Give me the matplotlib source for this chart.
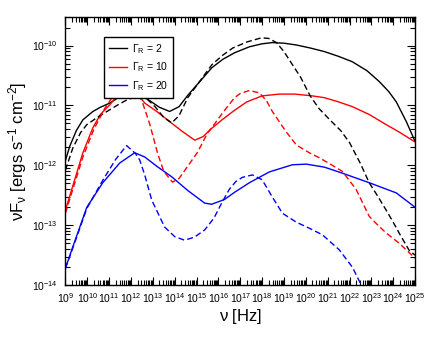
import numpy as np
import matplotlib
matplotlib.use("Agg")
import matplotlib.pyplot as plt
from matplotlib.ticker import FixedLocator, NullFormatter

plt.rcParams["font.family"] = ["Liberation Sans", "DejaVu Sans"]
plt.rcParams["mathtext.fontset"] = "custom"
plt.rcParams["mathtext.rm"] = "Liberation Sans"
plt.rcParams["mathtext.it"] = "Liberation Sans:italic"
plt.rcParams["mathtext.default"] = "regular"

# log10(nu [Hz]) and log10(nu F_nu)
g2_solid_lognu = [9.0, 9.2, 9.5, 9.8, 10.26, 10.6, 11.03, 11.5, 11.95, 12.4, 12.86, 13.3, 13.77,
                  14.2, 14.6, 15.2, 15.7, 16.2, 16.74, 17.42, 18.0, 18.47, 19.0, 19.57, 20.2,
                  20.85, 21.5, 22.13, 22.8, 23.36, 23.8, 24.14, 24.6, 25.0]
g2_solid_logf = [-11.92, -11.68, -11.42, -11.24, -11.1, -11.03, -10.96, -10.85, -10.79, -10.82,
                 -10.92, -11.03, -11.1, -11.02, -10.83, -10.58, -10.37, -10.23, -10.12, -10.02,
                 -9.97, -9.95, -9.96, -9.99, -10.04, -10.1, -10.18, -10.27, -10.42, -10.6,
                 -10.77, -10.94, -11.27, -11.6]

g2_dash_lognu = [9.0, 9.34, 9.7, 9.98, 10.5, 10.9, 11.4, 11.85, 12.3, 12.7, 13.1, 13.5, 13.87,
                 14.2, 14.6, 15.2, 15.7, 16.2, 16.66, 17.3, 17.97, 18.3, 18.66, 19.0, 19.39,
                 19.75, 20.2, 20.6, 21.1, 21.6, 22.0, 22.5, 22.9, 23.3, 23.68, 24.0, 24.27,
                 24.73, 25.0]
g2_dash_logf = [-12.08, -11.71, -11.45, -11.32, -11.19, -11.1, -10.99, -10.9, -10.85, -10.88,
                -11.02, -11.2, -11.29, -11.17, -10.87, -10.57, -10.32, -10.16, -10.04, -9.94,
                -9.87, -9.88, -9.95, -10.1, -10.32, -10.52, -10.84, -11.05, -11.24, -11.42,
                -11.62, -11.97, -12.29, -12.52, -12.75, -12.95, -13.13, -13.42, -13.5]

g10_solid_lognu = [9.0, 9.4, 9.8, 10.26, 10.6, 11.03, 11.45, 11.85, 12.2, 12.63, 13.18, 13.7,
                   14.3, 14.92, 15.3, 15.7, 16.2, 16.74, 17.3, 18.0, 18.79, 19.5, 20.3, 20.85,
                   21.5, 22.13, 22.9, 23.68, 24.3, 25.0]
g10_solid_logf = [-12.75, -12.27, -11.79, -11.37, -11.15, -10.99, -10.8, -10.7, -10.76, -10.96,
                  -11.1, -11.25, -11.42, -11.58, -11.52, -11.38, -11.23, -11.08, -10.94, -10.84,
                  -10.81, -10.81, -10.84, -10.87, -10.94, -11.02, -11.15, -11.32, -11.45, -11.61]

g10_dash_lognu = [9.0, 9.4, 9.8, 10.3, 10.8, 11.3, 11.72, 12.1, 12.5, 12.85, 13.22, 13.5, 13.9,
                  14.2, 14.47, 15.05, 15.5, 15.7, 16.2, 16.74, 17.0, 17.42, 17.88, 18.2, 18.47,
                  19.1, 19.57, 20.16, 20.6, 21.08, 21.67, 22.3, 22.9, 23.3, 23.68, 24.27, 25.0]
g10_dash_logf = [-12.8, -12.33, -11.86, -11.4, -11.05, -10.78, -10.61, -10.68, -10.92, -11.3,
                 -11.8, -12.1, -12.28, -12.22, -12.08, -11.78, -11.46, -11.37, -11.12, -10.87,
                 -10.8, -10.75, -10.79, -10.92, -11.1, -11.44, -11.66, -11.79, -11.87, -11.97,
                 -12.1, -12.4, -12.85, -13.0, -13.13, -13.3, -13.55]

g20_solid_lognu = [9.0, 9.34, 9.98, 10.71, 11.49, 12.17, 12.63, 13.2, 13.86, 14.6, 15.37, 15.69,
                   16.28, 16.74, 17.42, 18.33, 19.39, 20.03, 20.85, 21.67, 22.9, 24.14, 25.0]
g20_solid_logf = [-13.72, -13.36, -12.7, -12.29, -11.96, -11.79, -11.86, -12.02, -12.19, -12.42,
                  -12.63, -12.65, -12.57, -12.45, -12.29, -12.11, -11.99, -11.98, -12.03, -12.13,
                  -12.29, -12.46, -12.7]

g20_dash_lognu = [9.0, 9.34, 9.98, 10.71, 11.3, 11.8, 12.2, 12.4, 12.63, 12.95, 13.54, 14.0,
                  14.45, 14.9, 15.37, 15.8, 16.15, 16.5, 16.8, 17.1, 17.56, 18.0, 18.47, 18.93,
                  19.57, 20.16, 20.76, 21.53, 22.13, 22.58, 22.8]
g20_dash_logf = [-13.72, -13.38, -12.72, -12.25, -11.9, -11.67, -11.8, -11.91, -12.16, -12.58,
                 -13.03, -13.19, -13.25, -13.2, -13.08, -12.88, -12.63, -12.4, -12.27, -12.2,
                 -12.16, -12.24, -12.53, -12.8, -12.95, -13.05, -13.16, -13.41, -13.7, -14.03,
                 -14.3]

labels = [r"$\Gamma_R$ = 2", r"$\Gamma_R$ = 10", r"$\Gamma_R$ = 20"]
colors = ["black", "red", "blue"]
x_decades = np.arange(9, 26)
y_decades = np.arange(-14, -9)

fig = plt.figure(figsize=(4.36, 3.37), dpi=100)
ax = fig.add_axes([0.150, 0.154, 0.802, 0.796])

solids = [(g2_solid_lognu, g2_solid_logf), (g10_solid_lognu, g10_solid_logf),
          (g20_solid_lognu, g20_solid_logf)]
dashes = [(g2_dash_lognu, g2_dash_logf), (g10_dash_lognu, g10_dash_logf),
          (g20_dash_lognu, g20_dash_logf)]

for (x, y), lab, c in zip(solids, labels, colors):
    ax.plot(10 ** np.array(x), 10 ** np.array(y), color=c, lw=1.0, label=lab)
for (x, y), c in zip(dashes, colors):
    ax.plot(10 ** np.array(x), 10 ** np.array(y), color=c, lw=1.0, dashes=(4.3, 2.3))

ax.set_xscale("log")
ax.set_yscale("log")
ax.set_xlim(1e9, 1e25)
ax.set_ylim(1e-14, 10 ** -9.52)

x_minor = [m * 10.0 ** d for d in x_decades[:-1] for m in range(2, 10)]
y_minor = [m * 10.0 ** d for d in range(-14, -9) for m in range(2, 10)
           if m * 10.0 ** d < 10 ** -9.52]
ax.xaxis.set_major_locator(FixedLocator(10.0 ** x_decades))
ax.xaxis.set_minor_locator(FixedLocator(x_minor))
ax.xaxis.set_minor_formatter(NullFormatter())
ax.yaxis.set_major_locator(FixedLocator(10.0 ** y_decades))
ax.yaxis.set_minor_locator(FixedLocator(y_minor))
ax.yaxis.set_minor_formatter(NullFormatter())

ax.tick_params(which="both", direction="in", top=True, right=True, width=0.8)
ax.tick_params(which="major", length=6, labelsize=7.5)
ax.tick_params(which="minor", length=3.5)
ax.tick_params(axis="y", pad=5.5)
ax.tick_params(axis="x", pad=4.5)
for s in ax.spines.values():
    s.set_linewidth(1.0)

ax.set_xlabel(r"$\nu$ [Hz]", fontsize=12, labelpad=1)
ax.set_ylabel(r"$\nu$F$_\nu$ [ergs s$^{-1}$ cm$^{-2}$]", fontsize=12, labelpad=2)

leg = ax.legend(loc="upper left", bbox_to_anchor=(0.095, 0.945), fontsize=7.5,
                handlelength=1.7, handletextpad=0.5, labelspacing=0.45,
                borderpad=0.5, fancybox=False, framealpha=1, edgecolor="black")
leg.get_frame().set_linewidth(1.0)

fig.savefig("out.png", dpi=100)
